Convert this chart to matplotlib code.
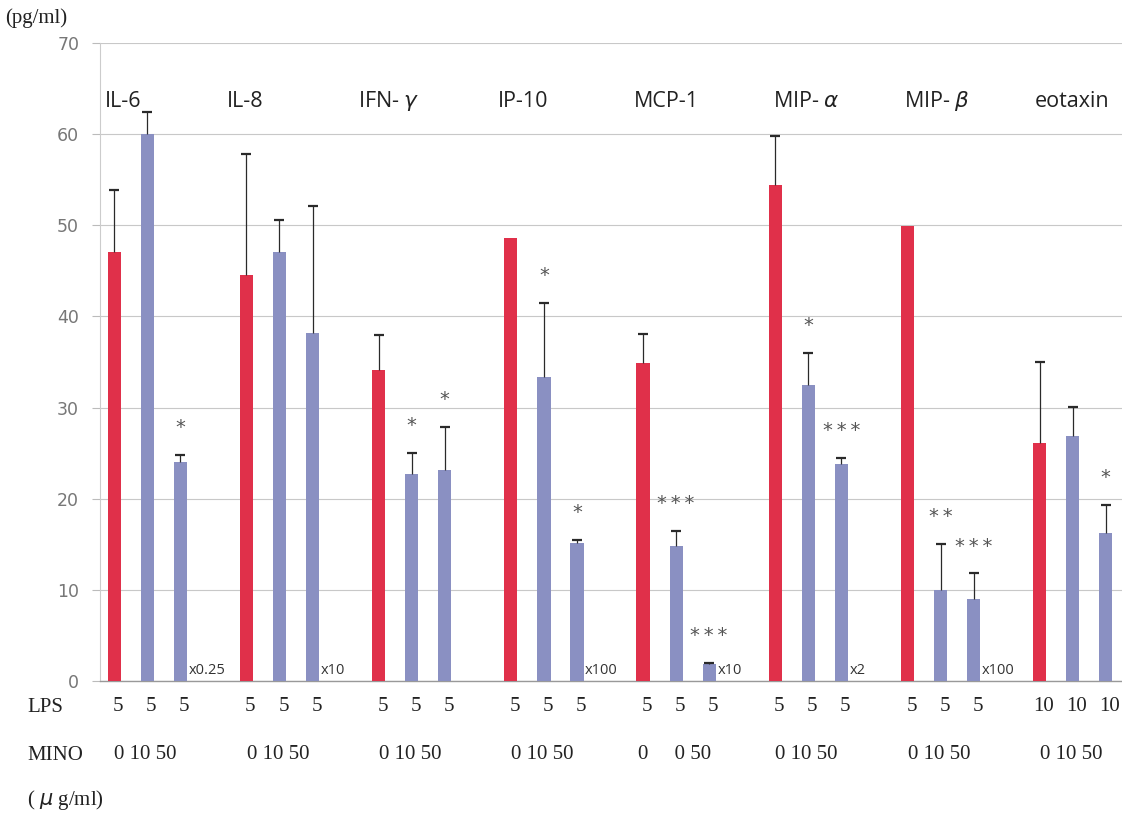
import matplotlib
matplotlib.use("Agg")
import matplotlib.pyplot as plt
import numpy as np

# ---- data ----
groups = ['IL-6', 'IL-8', 'IFN- $\\gamma$', 'IP-10', 'MCP-1', 'MIP- $\\alpha$', 'MIP- $\\beta$', 'eotaxin']
red_vals = [47.1, 44.5, 34.1, 48.6, 34.9, 54.4, 49.9, 26.1]
red_err = [6.8, 13.3, 3.9, 0.0, 3.2, 5.4, 0.0, 8.9]
blue1_vals = [60.0, 47.1, 22.7, 33.3, 14.8, 32.5, 10.0, 26.9]
blue1_err = [2.4, 3.5, 2.3, 8.2, 1.7, 3.5, 5.0, 3.2]
blue2_vals = [24.0, 38.2, 23.2, 15.1, 1.9, 23.8, 9.0, 16.2]
blue2_err = [0.8, 13.9, 4.7, 0.4, 0.1, 0.7, 2.8, 3.1]
blue1_sig = ['', '', '*', '*', '***', '*', '**', '']
blue2_sig = ['*', '', '*', '*', '***', '***', '***', '*']
multipliers = ['x0.25', 'x10', '', 'x100', 'x10', 'x2', 'x100', '']
lps_doses = [['5', '5', '5']] * 7 + [['10', '10', '10']]
mino_doses = ['0 10 50', '0 10 50', '0 10 50', '0 10 50', '0     0 50', '0 10 50', '0 10 50', '0 10 50']
yticks = [0, 10, 20, 30, 40, 50, 60, 70]

# ---- style ----
RED = '#E0304A'
BLUE = '#8A90C2'
ERR = '#2a2a2a'
STAR = '#555555'
serif = 'Liberation Serif'
sans = 'Open Sans'

fig = plt.figure(figsize=(11.22, 8.18), dpi=100)
ax = fig.add_axes([100 / 1122, 1 - 681 / 818, 1 - 100 / 1122, (681 - 43) / 818])

n = len(groups)
base = np.arange(n) * 4
x_red = base
x_b1 = base + 1
x_b2 = base + 2
w = 0.40

ax.bar(x_red, red_vals, width=w, color=RED, zorder=3)
ax.bar(x_b1, blue1_vals, width=w, color=BLUE, zorder=3)
ax.bar(x_b2, blue2_vals, width=w, color=BLUE, zorder=3)

def errs(xs, vals, es):
    for x, v, e in zip(xs, vals, es):
        if e > 0:
            ax.vlines(x, v, v + e, color=ERR, linewidth=0.9, zorder=4)
            ax.plot([x], [v + e], marker='_', markersize=7, mew=1.6, color=ERR, zorder=4)

errs(x_red, red_vals, red_err)
errs(x_b1, blue1_vals, blue1_err)
errs(x_b2, blue2_vals, blue2_err)

# significance stars
for xs, vals, es, sig in [(x_b1, blue1_vals, blue1_err, blue1_sig),
                          (x_b2, blue2_vals, blue2_err, blue2_sig)]:
    for x, v, e, s in zip(xs, vals, es, sig):
        if s:
            ax.text(x, v + e + 3.0, '\u2009'.join(s), ha='center', va='center', fontsize=14,
                    color=STAR, family='DejaVu Sans', zorder=5)

# multiplier labels
for x, m in zip(x_b2, multipliers):
    if m:
        ax.text(x + 0.25, 1.2, m, ha='left', va='center', fontsize=10.5,
                color='#333333', family=sans, zorder=5)

# group labels
label_dx = [-0.28, -0.60, -0.63, -0.38, -0.28, -0.06, -0.11, -0.14]
for b, g, dx in zip(base, groups, label_dx):
    ax.text(b + dx, 63.6, g, ha='left', va='center', fontsize=15.5,
            color='#222222', family=sans)

# dose rows under the axis
for b, doses in zip(base, lps_doses):
    for j, d in enumerate(doses):
        ax.text(b + j + 0.12, -2.85, d, ha='center', va='center', fontsize=15,
                family=serif, color='#222222', clip_on=False)
for b, s in zip(base, mino_doses):
    ax.text(b + 0.95, -8.1, s, ha='center', va='center', fontsize=15,
            family=serif, color='#222222', clip_on=False)

fig.text(27 / 1122, 1 - 707 / 818, 'LPS', ha='left', va='center', fontsize=15,
         family=serif, color='#222222')
fig.text(27 / 1122, 1 - 755 / 818, 'MINO', ha='left', va='center', fontsize=15,
         family=serif, color='#222222')
fig.text(27 / 1122, 1 - 800 / 818, '( $\\mu$ g/ml)', ha='left', va='center', fontsize=15,
         family=serif, color='#222222')
fig.text(5 / 1122, 1 - 18 / 818, '(pg/ml)', ha='left', va='center', fontsize=15,
         family=serif, color='#222222')

# axes styling
ax.set_xlim(-0.43, 30.49)
ax.set_ylim(0, 70)
ax.set_yticks(yticks)
ax.set_yticklabels([str(t) for t in yticks], fontsize=12.5, color='#777777', family='DejaVu Sans')
ax.set_xticks([])
ax.tick_params(axis='y', length=6, color='#bbbbbb', pad=9, width=0.8)
ax.grid(axis='y', color='#c8c8c8', linewidth=0.8, zorder=0)
for s in ['top', 'right']:
    ax.spines[s].set_visible(False)
ax.spines['left'].set_color('#cccccc')
ax.spines['left'].set_linewidth(0.8)
ax.spines['bottom'].set_color('#999999')
ax.spines['bottom'].set_linewidth(1.0)
ax.set_axisbelow(True)

fig.savefig('out.png', dpi=100, facecolor='white')
